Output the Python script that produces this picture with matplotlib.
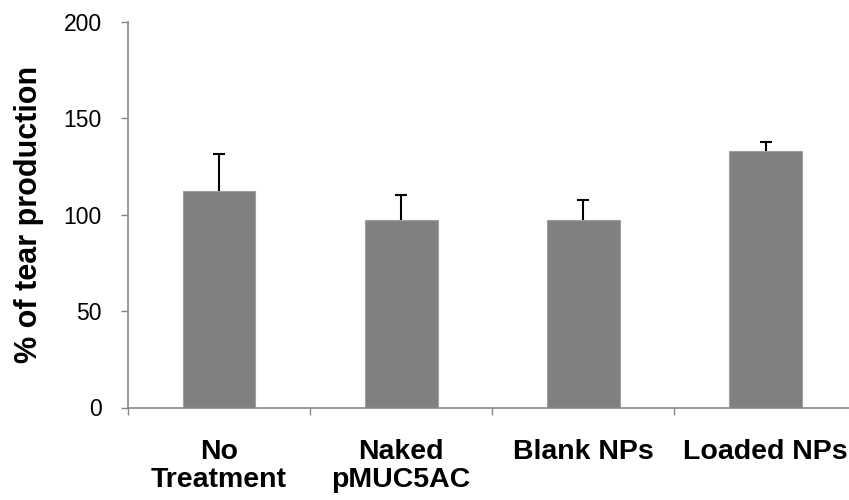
import matplotlib
matplotlib.use("Agg")
import matplotlib.pyplot as plt

categories = ["No\nTreatment", "Naked\npMUC5AC", "Blank NPs", "Loaded NPs"]
values = [112.5, 97.1, 97.1, 132.9]
errors = [18.9, 13.0, 10.8, 4.8]
yticks = [0, 50, 100, 150, 200]

plt.rcParams['font.family'] = ['Liberation Sans', 'DejaVu Sans']

fig = plt.figure(figsize=(8.49, 5.0), dpi=100)
ax = fig.add_axes([127.9/849, 92.5/500, (849-127.9)/849, (478-92.5)/500])

x = list(range(len(categories)))
ax.bar(x, values, width=0.4, color="#808080", edgecolor="#a0a0a0", linewidth=0.8, zorder=2)
ax.errorbar(x, values, yerr=[[0]*len(errors), errors], fmt='none', ecolor='black',
            elinewidth=1.5, capsize=0, zorder=3)
tops = [v + e for v, e in zip(values, errors)]
ax.plot(x, tops, linestyle='none', marker='_', markersize=9, markeredgewidth=1.5,
        color='black', zorder=3)

ax.set_ylim(0, 200)
ax.set_xlim(-0.5, 3.458)
ax.set_yticks(yticks)
ax.set_yticklabels([str(t) for t in yticks], fontsize=16.5)
ax.set_xticks([i - 0.5 for i in range(len(categories))])
ax.set_xticklabels([])
ax.set_xticks(x, minor=True)
ax.set_xticklabels(categories, minor=True, fontsize=20.5, fontweight='bold', linespacing=1.1)
ax.tick_params(axis='x', which='minor', length=0, pad=23)
ax.tick_params(axis='x', which='major', length=5, color='#878787', width=1, direction='out')
ax.tick_params(axis='y', length=5, color='#878787', width=1, direction='out', pad=14)

for s in ['top', 'right']:
    ax.spines[s].set_visible(False)
for s in ['left', 'bottom']:
    ax.spines[s].set_color('#878787')
    ax.spines[s].set_linewidth(1.2)

ax.set_ylabel("% of tear production", fontsize=22, fontweight='bold', labelpad=14)

fig.savefig("out.png", dpi=100)
